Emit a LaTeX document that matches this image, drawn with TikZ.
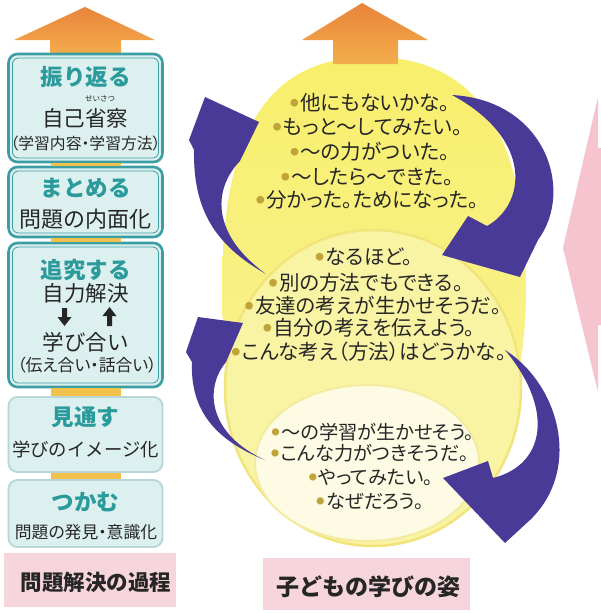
\documentclass[tikz,border=0pt]{standalone}
\usepackage{fontspec}
\setmainfont{Noto Sans CJK JP}
\newfontfamily\jpp{Noto Sans CJK JP}[RawFeature=+palt]
\usetikzlibrary{arrows.meta}
\definecolor{txt}{HTML}{262626}
\definecolor{tealb}{HTML}{3B9EA2}
\definecolor{tealtx}{HTML}{2A9A9B}
\definecolor{lightb}{HTML}{B8D6D9}
\definecolor{boxfill}{HTML}{DDF0F0}
\definecolor{barc}{HTML}{F2C14B}
\definecolor{eggc}{HTML}{F8EF6C}
\definecolor{eggd}{HTML}{F9F29A}
\definecolor{midc}{HTML}{F9F4A4}
\definecolor{midedge}{HTML}{F2E47A}
\definecolor{innc}{HTML}{FDFBE4}
\definecolor{innedge}{HTML}{F4EBA0}
\definecolor{purp}{HTML}{4A3A97}
\definecolor{pinkl}{HTML}{F7D5DC}
\definecolor{pinka}{HTML}{F5C4CF}
\definecolor{bul}{HTML}{BFA43A}
\definecolor{orgt}{HTML}{E9843A}
\definecolor{orgb}{HTML}{F3AD4C}
\newcommand\fsz[1]{\fontsize{#1}{#1}\selectfont}
\newcommand\bullt{{\color{bul}\raisebox{.2em}{\scalebox{.42}{●}}}\hspace{.08em}}
\begin{document}
\begin{tikzpicture}[x=1pt,y=-1pt,
  tx/.style={inner sep=0pt,outer sep=0pt,text=txt},
  th/.style={/utils/exec={\pgfmathsetlengthmacro\mytH{0.88*#1pt}\pgfmathsetlengthmacro\mytD{0.12*#1pt}},
             text height=\mytH,text depth=\mytD},
  fn/.style={tx,th=#1,font=\fsz{#1}},
  fp/.style={tx,th=#1,font=\jpp\fsz{#1}},
  hd/.style={tx,th=22.5,text=tealtx,font=\fsz{22.5}\bfseries},
  ct/.style={fp=20.5},
  cu/.style={fp=19.2},
  boxA/.style={draw=tealb,line width=2.6pt,fill=boxfill,rounded corners=9pt,minimum width=154pt,inner sep=0pt,outer sep=0pt},
  boxB/.style={draw=lightb,line width=1.8pt,fill=boxfill,rounded corners=9pt,minimum width=154pt,inner sep=0pt,outer sep=0pt},
  inl/.style={draw=tealb,line width=.8pt,rounded corners=6pt},
  bar/.style={draw=barc,line width=70pt,shorten <=1.3pt,shorten >=1.3pt},
  parr/.style={fill=purp},
  oarr/.style={top color=orgt,bottom color=orgb,draw=none},
  labr/.style={fill=pinkl,inner sep=0pt,outer sep=0pt}
]
\useasboundingbox (0,0) rectangle (601,613);
\fill[white] (0,0) rectangle (601,613);

% ---- egg and circles ----
\shade[top color=eggc,bottom color=eggd] (371,57) .. controls (482,57) and (526,140) .. (526,290)
  .. controls (526,440) and (460,545) .. (375,545)
  .. controls (290,545) and (222,440) .. (222,290)
  .. controls (222,140) and (262,57) .. (371,57) -- cycle;
\fill[midc,draw=midedge,line width=2.5pt] (373,388) ellipse [x radius=148,y radius=158];
\fill[innc,draw=innedge,line width=2pt] (367,463) ellipse [x radius=112,y radius=78];

% ---- purple arrows ----
\fill[parr] (266,274) .. controls (215,245) and (193,210) .. (194,150) -- (189,140) -- (205,97)
  -- (259,122) -- (240,161) .. controls (212,190) and (212,235) .. (266,274) -- cycle;
\fill[parr] (452,95) .. controls (545,100) and (575,190) .. (538,240) -- (520,277) -- (442,255)
  -- (468,216) -- (487,226) .. controls (525,205) and (535,140) .. (452,95) -- cycle;
\fill[parr] (265,460) .. controls (215,440) and (190,410) .. (192,362) -- (186,352) -- (198,317)
  -- (243,323) -- (226,362) .. controls (203,390) and (210,435) .. (265,460) -- cycle;
\fill[parr] (505,350) .. controls (560,385) and (582,470) .. (530,520) -- (505,543) -- (443,478)
  -- (488,461) -- (493,478) .. controls (545,465) and (555,410) .. (505,350) -- cycle;

% ---- orange arrows ----
\shade[oarr] (85,7) -- (155,40) -- (121,40) -- (121,55) -- (50,55) -- (50,40) -- (14,40) -- cycle;
\shade[oarr] (362,3) -- (428,40) -- (398,40) -- (398,64) -- (333,64) -- (333,40) -- (302,40) -- cycle;

% ---- centre texts ----
\node[ct] (t1) at (370,103) {\bullt 他にもないかな。};
\node[ct] (t2) at (367.5,127) {\bullt もっと〜してみたい。};
\node[ct] (t3) at (370,152) {\bullt 〜の力がついた。};
\node[ct] (t4) at (367.5,177) {\bullt 〜したら〜できた。};
\node[ct] (t5) at (367.5,200) {\bullt 分かった。ためになった。};

\node[ct] (m1) at (364,257) {\bullt なるほど。};
\node[ct] (m2) at (366,283) {\bullt 別の方法でもできる。};
\node[ct] (m3) at (373,306) {\bullt 友達の考えが生かせそうだ。};
\node[ct] (m4) at (369,328) {\bullt 自分の考えを伝えよう。};
\node[ct] (m5) at (369,352) {\bullt こんな考え（方法）はどうかな。};

\node[cu] (u1) at (373,432) {\bullt 〜の学習が生かせそう。};
\node[cu] (u2) at (370,453) {\bullt こんな力がつきそうだ。};
\node[cu] (u3) at (371,477) {\bullt やってみたい。};
\node[cu] (u4) at (370,501) {\bullt なぜだろう。};

% ---- left column boxes ----
\node[boxA,minimum height=108pt] (b1) at (85.5,108) {};
\node[boxA,minimum height=70pt] (b2) at (85.5,202) {};
\node[boxA,minimum height=144pt] (b3) at (85.5,315) {};
\node[boxB,minimum height=75pt] (b4) at (85.5,434.5) {};
\node[boxB,minimum height=67pt] (b5) at (85.5,513.5) {};
\foreach \b in {b1,b2,b3}
  \draw[inl] ([shift={(4pt,-4pt)}]\b.north west) rectangle ([shift={(-4pt,4pt)}]\b.south east);
\draw[bar] (b1.south) -- (b2.north);
\draw[bar] (b2.south) -- (b3.north);
\draw[bar] (b3.south) -- (b4.north);
\draw[bar] (b4.south) -- (b5.north);

\node[hd] (h1) at (85.5,77) {振り返る};
\node[fn=7.5] (rb) at (100,99) {せいさつ};
\node[fn=21.5] (b1b) at (85,118) {自己省察};
\node[fp=15.8] (b1c) at (85.5,143) {（学習内容・学習方法）};

\node[hd] (h2) at (85.5,188) {まとめる};
\node[fn=22] (b2b) at (85.5,219) {問題の内面化};

\node[hd] (h3) at (85.5,270) {追究する};
\node[fn=21.5] (b3b) at (85.5,293) {自力解決};
\fill[txt] (62,308) -- (67,308) -- (67,317) -- (71.5,317) -- (64.5,326) -- (57.5,317) -- (62,317) -- cycle;
\fill[txt] (109.5,307) -- (116.5,316) -- (112,316) -- (112,326) -- (107,326) -- (107,316) -- (102.5,316) -- cycle;
\node[fn=21.5] (b3c) at (85.5,342) {学び合い};
\node[fp=16.8] (b3d) at (87,365) {（伝え合い・話合い）};

\node[hd] (h4) at (85.5,417) {見通す};
\node[fn=18.4] (b4b) at (85.5,450) {学びのイメージ化};

\node[hd] (h5) at (85.5,502) {つかむ};
\node[fp=16.8] (b5b) at (86,532) {問題の発見・意識化};

% ---- labels ----
\node[labr,minimum width=172pt,minimum height=54pt] (L1) at (90,580) {};
\node[tx,th=21.5,font=\fsz{21.5}\bfseries] (L1t) at (96,582) {問題解決の過程};
\node[labr,minimum width=207pt,minimum height=52pt] (L2) at (366.5,584) {};
\node[tx,th=23,font=\fsz{23}\bfseries] (L2t) at (368,587) {子どもの学びの姿};

% ---- pink arrow on the right ----
\fill[pinka] (598,97) -- (563,248) -- (598,392) -- (598,325) -- (601,325) -- (601,148) -- (598,148) -- cycle;
\end{tikzpicture}
\end{document}
